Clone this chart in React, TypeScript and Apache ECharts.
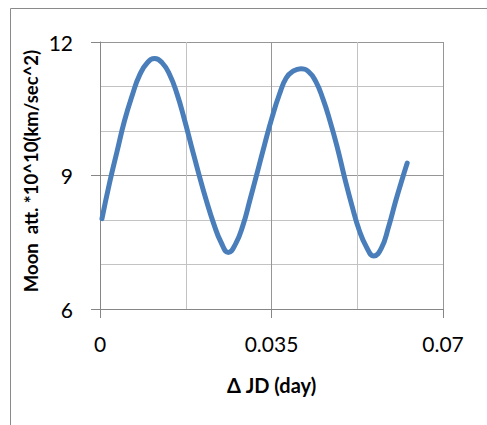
import React, { useEffect, useRef } from "react";
import * as echarts from "echarts";

const deltaJD: number[] = [
  0.0004, 0.0019, 0.0035, 0.005, 0.0066, 0.0081, 0.0097, 0.0112,
  0.0127, 0.0142, 0.0157, 0.0172, 0.0187, 0.0202, 0.0217, 0.0232, 0.0247, 0.0262,
  0.0277, 0.0292, 0.0306, 0.0321, 0.0336, 0.0351, 0.0366, 0.038, 0.0395, 0.041,
  0.0425, 0.044, 0.0455, 0.047, 0.0485, 0.0499, 0.0514, 0.0529, 0.0544, 0.0559,
  0.0574, 0.0589, 0.0604, 0.0619, 0.0627,
];

const moonAtt: number[] = [
  8.03, 8.81, 9.55, 10.23, 10.81, 11.26, 11.54, 11.63,
  11.53, 11.27, 10.84, 10.27, 9.64, 9.02, 8.44, 7.92, 7.5, 7.27,
  7.47, 7.89, 8.45, 9.07, 9.7, 10.3, 10.82, 11.19, 11.35, 11.4,
  11.34, 11.12, 10.72, 10.2, 9.6, 8.96, 8.33, 7.77, 7.39, 7.19,
  7.36, 7.85, 8.45, 9.0, 9.28,
];

const xTicks = { min: 0, max: 0.07, interval: 0.035, minorSplit: 2 };
const yTicks = { min: 6, max: 12, interval: 3, minorSplit: 3 };

const xName = "\u0394 JD (day)";
const yName = "Moon  att. *10^10(km/sec^2)";

export default function App() {
  const ref = useRef<HTMLDivElement>(null);
  useEffect(() => {
    if (!ref.current) return;
    const chart = echarts.init(ref.current, undefined, { renderer: "svg" });
    const font = "Lato, 'Open Sans', sans-serif";
    const axisColor = "#868686";
    const majorGrid = "#969696";
    const minorGrid = "#c3c3c3";
    chart.setOption({
      animation: false,
      backgroundColor: "#ffffff",
      grid: { left: 100, top: 42, right: 44, bottom: 116, containLabel: false },
      graphic: [
        {
          type: "rect",
          shape: { x: 10.5, y: 8.5, width: 600, height: 600 },
          style: { fill: "none", stroke: "#8a8a8a", lineWidth: 1 },
          silent: true,
          z: -10,
        },
        {
          type: "text",
          x: 31,
          y: 171,
          rotation: Math.PI / 2,
          style: {
            text: yName,
            align: "center",
            verticalAlign: "middle",
            fontFamily: font,
            fontWeight: "bold",
            fontSize: 18.5,
            fill: "#000000",
          },
        },
      ],
      xAxis: {
        type: "value",
        min: xTicks.min,
        max: xTicks.max,
        interval: xTicks.interval,
        name: xName,
        nameLocation: "middle",
        nameGap: 66,
        nameTextStyle: { fontFamily: font, fontWeight: "bold", fontSize: 20, color: "#000" },
        axisLine: { show: true, lineStyle: { color: axisColor, width: 1 } },
        axisTick: { show: true, length: 9, lineStyle: { color: axisColor } },
        axisLabel: { fontFamily: font, fontSize: 21, color: "#000", margin: 24 },
        splitLine: { show: true, lineStyle: { color: majorGrid, width: 1 } },
        minorTick: { show: false, splitNumber: xTicks.minorSplit },
        minorSplitLine: { show: true, lineStyle: { color: minorGrid, width: 1 } },
      },
      yAxis: {
        type: "value",
        min: yTicks.min,
        max: yTicks.max,
        interval: yTicks.interval,
        axisLine: { show: true, lineStyle: { color: axisColor, width: 1 } },
        axisTick: { show: true, length: 9, lineStyle: { color: axisColor } },
        axisLabel: { fontFamily: font, fontSize: 21, color: "#000", margin: 27 },
        splitLine: { show: true, lineStyle: { color: majorGrid, width: 1 } },
        minorTick: { show: false, splitNumber: yTicks.minorSplit },
        minorSplitLine: { show: true, lineStyle: { color: minorGrid, width: 1 } },
      },
      series: [
        {
          type: "line",
          data: deltaJD.map((x, i) => [x, moonAtt[i]]),
          smooth: 0.5,
          showSymbol: false,
          symbol: "none",
          lineStyle: { color: "#4a7ebb", width: 5, cap: "round", join: "round" },
        },
      ],
    });
    return () => chart.dispose();
  }, []);
  return (
    <div
      ref={ref}
      style={{ position: "absolute", left: 0, top: 0, width: 487, height: 425 }}
    />
  );
}
